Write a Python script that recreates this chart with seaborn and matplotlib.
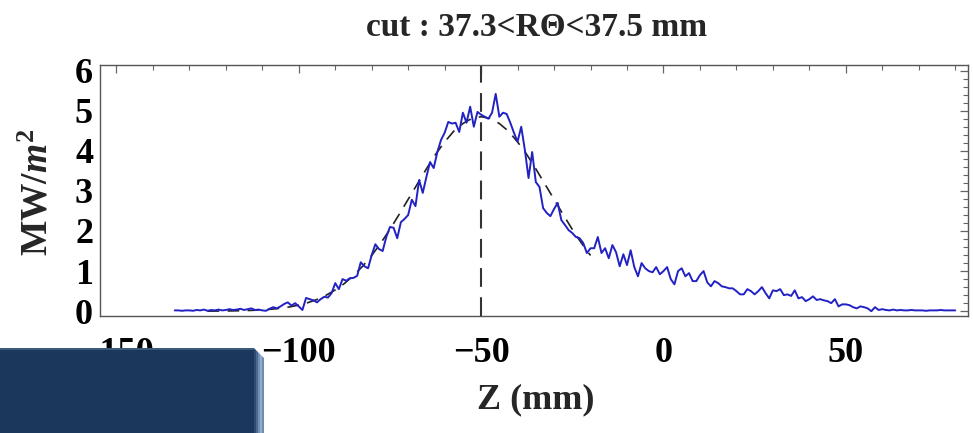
import numpy as np
import pandas as pd
import matplotlib
matplotlib.use("Agg")
import matplotlib.pyplot as plt
from matplotlib.patches import Rectangle, Polygon
import seaborn as sns

# ---------------- data ----------------
z_measured = list(range(-134, 81))
q_measured = [
    0.02, 0.02, 0.01, 0.02, 0.02, 0.01, 0.03, 0.02, 0.04, 0.01,   # -134..-125
    0.03, 0.02, 0.04, 0.02, 0.03, 0.05, 0.03, 0.04, 0.06, 0.03,   # -124..-115
    0.05, 0.07, 0.03, 0.04, 0.02, 0.01, 0.06, 0.10, 0.07, 0.12,   # -114..-105
    0.18, 0.22, 0.14, 0.20, 0.12, 0.03, 0.33, 0.30, 0.27, 0.22,   # -104..-95
    0.30, 0.36, 0.34, 0.45, 0.70, 0.55, 0.80, 0.76, 0.82, 0.83,   # -94..-85
    0.88, 1.22, 1.12, 1.07, 1.40, 1.67, 1.55, 1.50, 1.85, 2.10,   # -84..-75
    2.08, 1.82, 2.22, 2.30, 2.40, 2.78, 2.62, 3.27, 2.95, 3.35,   # -74..-65
    3.72, 3.57, 3.97, 4.27, 4.45, 4.72, 4.68, 4.70, 4.47, 4.95,   # -64..-55
    4.70, 5.10, 4.60, 4.97, 4.90, 4.85, 4.80, 4.95, 5.42, 4.85,   # -54..-45
    4.95, 4.92, 4.70, 4.45, 4.23, 4.60, 4.02, 3.32, 3.97, 3.22,   # -44..-35
    3.10, 2.57, 2.45, 2.37, 2.55, 2.70, 2.27, 2.15, 2.02, 1.95,   # -34..-25
    1.85, 1.82, 1.70, 1.45, 1.57, 1.57, 1.85, 1.45, 1.57, 1.32,   # -24..-15
    1.65, 1.47, 1.12, 1.42, 1.15, 1.52, 1.10, 0.87, 1.20, 1.07,   # -14..-5
    1.00, 0.97, 1.10, 0.92, 1.00, 1.10, 0.80, 0.67, 1.00, 1.07,   # -4..5
    0.87, 0.95, 0.75, 0.75, 0.90, 1.00, 0.72, 0.62, 0.75, 0.70,   # 6..15
    0.62, 0.60, 0.57, 0.57, 0.50, 0.42, 0.42, 0.55, 0.50, 0.42,   # 16..25
    0.50, 0.60, 0.45, 0.32, 0.52, 0.50, 0.55, 0.40, 0.42, 0.38,   # 26..35
    0.52, 0.32, 0.35, 0.25, 0.30, 0.37, 0.28, 0.30, 0.27, 0.25,   # 36..45
    0.20, 0.30, 0.12, 0.17, 0.17, 0.15, 0.10, 0.07, 0.12, 0.10,   # 46..55
    0.07, 0.00, 0.10, 0.03, 0.05, 0.03, 0.02, 0.04, 0.02, 0.03,   # 56..65
    0.02, 0.02, 0.03, 0.02, 0.02, 0.02, 0.01, 0.02, 0.02, 0.02,   # 66..75
    0.03, 0.02, 0.02, 0.02, 0.02,                                 # 76..80
]

z_fit = [-125 + 2.5 * i for i in range(43)]
q_fit = [
    0.002, 0.003, 0.005, 0.009, 0.014, 0.022, 0.033, 0.050, 0.073, 0.107,
    0.152, 0.213, 0.293, 0.398, 0.529, 0.69, 0.889, 1.12, 1.39, 1.70,
    2.04, 2.41, 2.79, 3.17, 3.55, 3.91, 4.22, 4.49, 4.68, 4.81,
    4.85, 4.81, 4.68, 4.49, 4.22, 3.91, 3.55, 3.17, 2.79, 2.41,
    2.04, 1.70, 1.39,
]
peak_z = -50

x_ticks = [-150, -100, -50, 0, 50]
y_ticks = [0, 1, 2, 3, 4, 5, 6]

title_text = "cut : 37.3<RΘ<37.5 mm"
xlabel_text = "Z (mm)"
ylabel_text = r"MW/$m^2$"

# ---------------- style ----------------
sns.set_theme(style="white")
plt.rcParams["font.family"] = ["Liberation Serif", "DejaVu Serif"]
plt.rcParams["font.weight"] = "bold"
plt.rcParams["mathtext.fontset"] = "custom"
plt.rcParams["mathtext.rm"] = "Liberation Serif:bold"
plt.rcParams["mathtext.bf"] = "Liberation Serif:bold"
plt.rcParams["mathtext.it"] = "Liberation Serif:italic:bold"

W, H = 973, 433
fig = plt.figure(figsize=(W / 100, H / 100), dpi=100)
ax = fig.add_axes([100 / W, 1 - 316 / H, 868 / W, 251 / H])

df_meas = pd.DataFrame({"z": z_measured, "q": q_measured})
df_fit = pd.DataFrame({"z": z_fit, "q": q_fit})

sns.lineplot(data=df_meas, x="z", y="q", ax=ax, color="#2222c4", linewidth=1.4,
             estimator=None, sort=False, zorder=3)
sns.lineplot(data=df_fit, x="z", y="q", ax=ax, color="#222222", linewidth=1.2,
             estimator=None, sort=False, linestyle=(0, (7, 5)), zorder=2)
ax.axvline(peak_z, color="#333333", linewidth=1.5, linestyle=(0, (9, 5)), zorder=2)

ax.set_xlim(-154.5, 83.5)
ax.set_ylim(-0.12, 6.14)
ax.set_xticks(x_ticks)
ax.set_yticks(y_ticks)
ax.set_xticks(np.arange(-150, 84, 10), minor=True)
ax.set_yticks(np.arange(0, 6.15, 0.2), minor=True)

ax.tick_params(axis="both", which="both", direction="in", top=True, right=True,
               colors="#666666", labelcolor="black")
ax.tick_params(axis="both", which="major", length=6, width=0.9, labelsize=26)
ax.tick_params(axis="both", which="minor", length=3.5, width=0.8)
ax.tick_params(axis="x", which="major", pad=15)
ax.tick_params(axis="y", which="major", pad=5)
for lab in ax.get_xticklabels() + ax.get_yticklabels():
    lab.set_fontweight("bold")

for s in ax.spines.values():
    s.set_color("#555555")
    s.set_linewidth(1.0)

ax.set_xlabel(xlabel_text, fontsize=26, fontweight="bold")
ax.xaxis.set_label_coords((536 - 100) / 868, (316 - 400) / 251)
ax.xaxis.label.set_va("center")
ax.set_ylabel(ylabel_text, fontsize=27, fontweight="bold")
ax.yaxis.set_label_coords((38 - 100) / 868, (316 - 192) / 251)
ax.yaxis.label.set_va("center")

fig.text(537 / W, 1 - 27 / H, title_text, ha="center", va="center",
         fontsize=24, fontweight="bold")

# overlay slide box in bottom-left
box_top = 1 - 348 / H
fig.patches.append(Rectangle((0, 0), 254 / W, box_top, transform=fig.transFigure,
                             facecolor="#1b385c", edgecolor="none", zorder=10))
bevel_cols = ["#2d4c74", "#4a6a92", "#7190b6", "#93adcc", "#6f8db2"]
for i, c in enumerate(bevel_cols):
    x0 = (254 + i * 2) / W
    fig.patches.append(Polygon([(x0, 0), (x0 + 2 / W, 0), (x0 + 2 / W, box_top - (i * 2 + 2) / H),
                                (x0, box_top - (i * 2) / H)],
                               closed=True, transform=fig.transFigure,
                               facecolor=c, edgecolor="none", zorder=10))
fig.patches.append(Rectangle((0, box_top - 1.5 / H), 254 / W, 1.5 / H, transform=fig.transFigure,
                             facecolor="#3b5a80", edgecolor="none", zorder=11))

fig.savefig("out.png", dpi=100)
